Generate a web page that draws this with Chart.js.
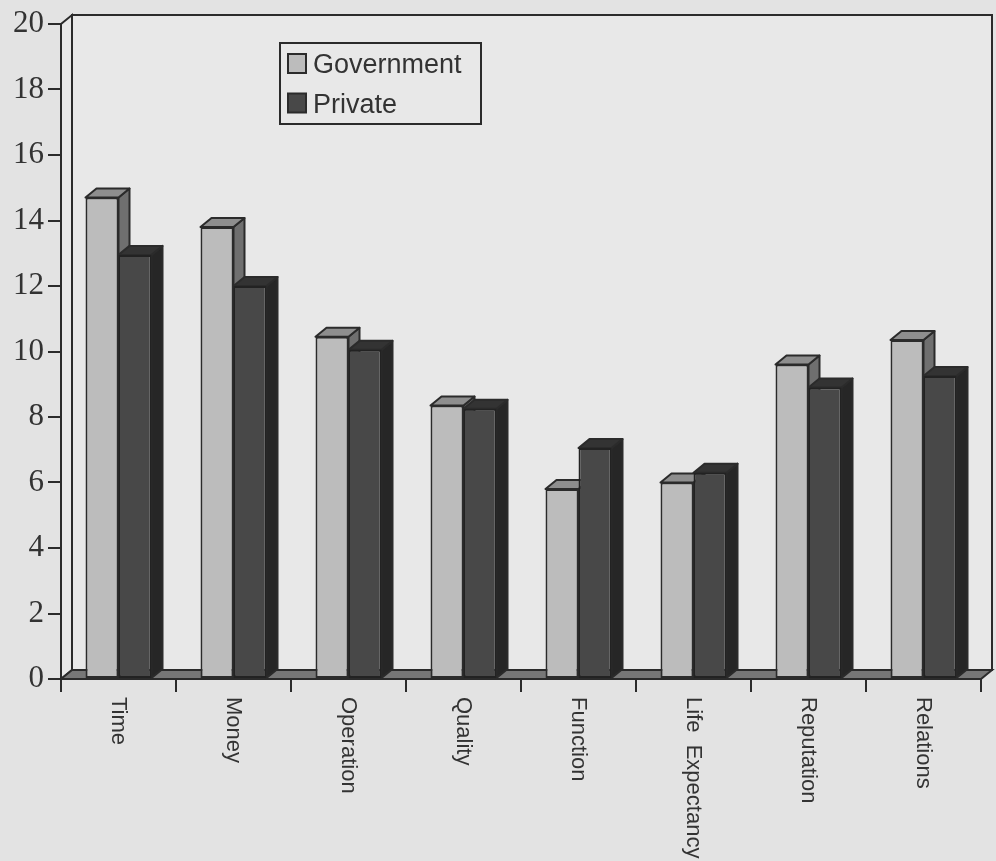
<!DOCTYPE html>
<html>
<head>
<meta charset="utf-8">
<title>Government and private</title>
<script src="https://cdn.jsdelivr.net/npm/chart.js@4"></script>
<style>
html, body { margin: 0; padding: 0; background: #e3e3e3; overflow: hidden; }
canvas { display: block; }
</style>
</head>
<body>
<canvas id="myChart" width="996" height="861"></canvas>
<script>
var categories = ['Time', 'Money', 'Operation', 'Quality', 'Function', 'Life  Expectancy', 'Reputation', 'Relations'];
var government = [14.7, 13.8, 10.45, 8.35, 5.8, 6.0, 9.6, 10.35];
var privateSector = [12.95, 12.0, 10.05, 8.25, 7.05, 6.3, 8.9, 9.25];

var DEPTH_X = 11;
var DEPTH_Y = -9;
var LINE = '#2b2b2b';

function poly(ctx, pts, fill) {
	ctx.beginPath();
	ctx.moveTo(pts[0][0], pts[0][1]);
	for (var i = 1; i < pts.length; i++) {
		ctx.lineTo(pts[i][0], pts[i][1]);
	}
	ctx.closePath();
	if (fill) {
		ctx.fillStyle = fill;
		ctx.fill();
	}
	ctx.stroke();
}

// back wall, left wall and floor behind the bars
var walls = {
	id: 'walls',
	beforeDatasetsDraw: function (chart) {
		var a = chart.chartArea, ctx = chart.ctx;
		ctx.save();
		ctx.strokeStyle = LINE;
		ctx.lineWidth = 2;
		poly(ctx, [[a.left + DEPTH_X, a.top + DEPTH_Y], [a.right + DEPTH_X, a.top + DEPTH_Y],
			[a.right + DEPTH_X, a.bottom + DEPTH_Y], [a.left + DEPTH_X, a.bottom + DEPTH_Y]], '#e8e8e8');
		poly(ctx, [[a.left, a.top], [a.left + DEPTH_X, a.top + DEPTH_Y],
			[a.left + DEPTH_X, a.bottom + DEPTH_Y], [a.left, a.bottom]], '#e8e8e8');
		poly(ctx, [[a.left, a.bottom], [a.left + DEPTH_X, a.bottom + DEPTH_Y],
			[a.right + DEPTH_X, a.bottom + DEPTH_Y], [a.right, a.bottom]], '#777777');
		ctx.restore();
	}
};

// side and top faces of the bars, the library paints the front faces over them afterwards
var barFaces = {
	id: 'barFaces',
	beforeDatasetsDraw: function (chart) {
		var ctx = chart.ctx;
		ctx.save();
		ctx.strokeStyle = LINE;
		ctx.lineWidth = 2;
		ctx.lineJoin = 'round';
		chart.data.datasets.forEach(function (ds, i) {
			chart.getDatasetMeta(i).data.forEach(function (bar) {
				var l = bar.x - bar.width / 2, r = bar.x + bar.width / 2;
				poly(ctx, [[r, bar.y], [r + DEPTH_X, bar.y + DEPTH_Y], [r + DEPTH_X, bar.base + DEPTH_Y], [r, bar.base]], ds.sideColor);
				poly(ctx, [[l, bar.y], [l + DEPTH_X, bar.y + DEPTH_Y], [r + DEPTH_X, bar.y + DEPTH_Y], [r, bar.y]], ds.topColor);
			});
		});
		ctx.restore();
	}
};

// category names run downwards under the axis
var downLabels = {
	id: 'downLabels',
	afterDraw: function (chart) {
		var x = chart.scales.x, ctx = chart.ctx;
		ctx.save();
		ctx.font = '22px "Liberation Sans"';
		ctx.fillStyle = '#333333';
		ctx.textAlign = 'left';
		ctx.textBaseline = 'alphabetic';
		categories.forEach(function (name, i) {
			ctx.save();
			ctx.translate(x.getPixelForTick(i) - 7, chart.chartArea.bottom + 18);
			ctx.rotate(Math.PI / 2);
			ctx.fillText(name, 0, 0);
			ctx.restore();
		});
		ctx.restore();
	}
};

// boxed key over the plot, reads its names from the datasets
var keyBox = {
	id: 'keyBox',
	afterDraw: function (chart) {
		var ctx = chart.ctx;
		ctx.save();
		ctx.strokeStyle = LINE;
		ctx.lineWidth = 2;
		ctx.fillStyle = '#e8e8e8';
		ctx.fillRect(280, 43, 201, 81);
		ctx.strokeRect(280, 43, 201, 81);
		ctx.font = '27px "Liberation Sans"';
		ctx.textBaseline = 'alphabetic';
		chart.data.datasets.forEach(function (ds, i) {
			var rowY = 54 + i * 39.5;
			ctx.fillStyle = ds.backgroundColor;
			ctx.fillRect(288, rowY, 18, 19);
			ctx.strokeRect(288, rowY, 18, 19);
			ctx.fillStyle = '#333333';
			ctx.fillText(ds.label, 313, rowY + 19);
		});
		ctx.restore();
	}
};

var chart = new Chart('myChart', {
	type: 'bar',
	data: {
		labels: categories,
		datasets: [{
			label: 'Government',
			data: government,
			backgroundColor: '#bcbcbc',
			sideColor: '#6f6f6f',
			topColor: '#8e8e8e',
			borderColor: LINE,
			borderWidth: 2,
			borderSkipped: false
		}, {
			label: 'Private',
			data: privateSector,
			backgroundColor: '#484848',
			sideColor: '#262626',
			topColor: '#333333',
			borderColor: '#222222',
			borderWidth: 2,
			borderSkipped: false
		}]
	},
	plugins: [walls, barFaces, downLabels, keyBox],
	options: {
		responsive: false,
		animation: false,
		events: [],
		layout: {
			padding: {
				left: 0,
				right: 15,
				top: 24,
				bottom: 0
			}
		},
		datasets: {
			bar: {
				categoryPercentage: 0.574,
				barPercentage: 1
			}
		},
		plugins: {
			legend: { display: false },
			tooltip: { enabled: false }
		},
		scales: {
			x: {
				afterFit: function (scale) { scale.height = 182; },
				border: { color: LINE, width: 2 },
				grid: {
					drawOnChartArea: false,
					color: LINE,
					lineWidth: 2,
					tickLength: 13
				},
				ticks: { display: false }
			},
			y: {
				min: 0,
				max: 20,
				afterFit: function (scale) { scale.width = 61; },
				border: { color: LINE, width: 2 },
				grid: {
					drawOnChartArea: false,
					color: LINE,
					lineWidth: 2,
					tickLength: 13
				},
				ticks: {
					stepSize: 2,
					padding: 4,
					color: '#333333',
					font: { family: '"Liberation Serif"', size: 31 }
				}
			}
		}
	}
});
</script>
</body>
</html>
